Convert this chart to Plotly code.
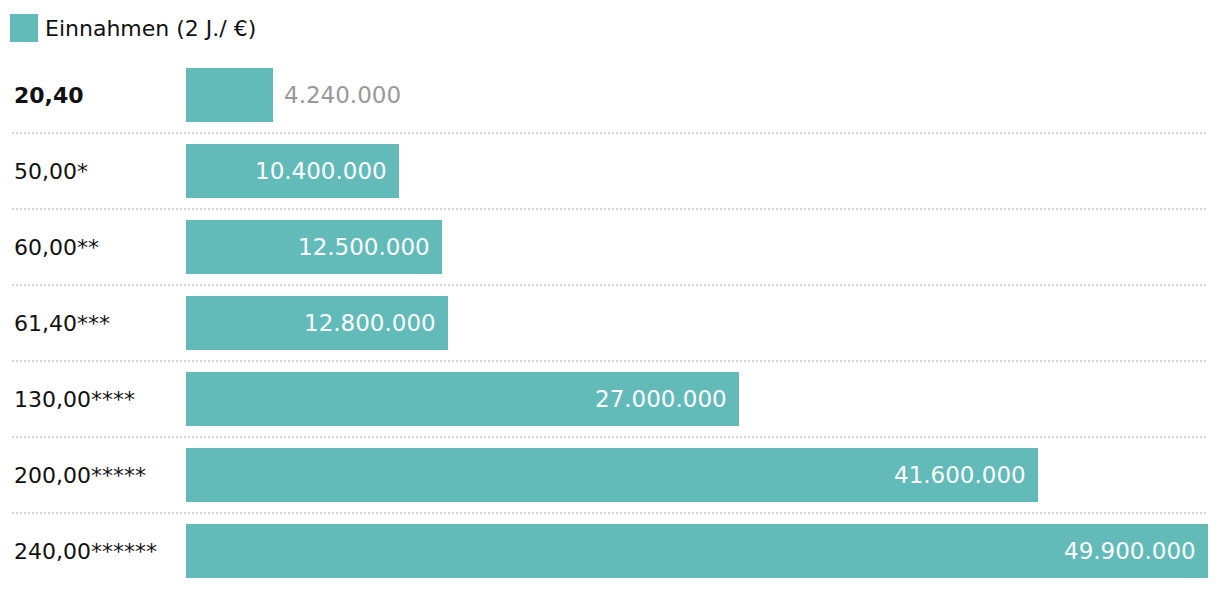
import plotly.graph_objects as go

# Data
categories = ["20,40", "50,00*", "60,00**", "61,40***", "130,00****", "200,00*****", "240,00******"]
values = [4240000, 10400000, 12500000, 12800000, 27000000, 41600000, 49900000]
value_labels = ["4.240.000", "10.400.000", "12.500.000", "12.800.000", "27.000.000", "41.600.000", "49.900.000"]
series_name = "Einnahmen (2 J./ €)"
highlight = [True, False, False, False, False, False, False]

BAR = "#62bbb9"
W, H = 1220, 590
ypos = list(range(len(categories)))

fig = go.Figure()
fig.add_trace(go.Bar(
    x=values, y=ypos, orientation="h", marker=dict(color=BAR, line=dict(width=0)),
    width=54 / 76, name=series_name, showlegend=False, hoverinfo="skip",
))

annotations = []
shapes = []
for i, (cat, v, lab, hl) in enumerate(zip(categories, values, value_labels, highlight)):
    annotations.append(dict(
        x=12 / W, xref="paper", y=i, yref="y", xanchor="left", yanchor="middle",
        text=f"<b>{cat}</b>" if hl else cat, showarrow=False,
        font=dict(family="DejaVu Sans", size=22, color="#111111"),
    ))
    inside = v > 6e6
    annotations.append(dict(
        x=v, xref="x", y=i, yref="y",
        xanchor="right" if inside else "left", yanchor="middle",
        xshift=-10 if inside else 9,
        text=lab, showarrow=False,
        font=dict(family="DejaVu Sans", size=23, color="#ffffff" if inside else "#999999"),
    ))
    if i < len(categories) - 1:
        shapes.append(dict(
            type="line", xref="paper", yref="y", x0=12 / W, x1=1208 / W, y0=i + 0.5, y1=i + 0.5,
            line=dict(color="#d6d6d6", width=2, dash="2px,2px"), layer="below",
        ))

# legend
shapes.append(dict(type="rect", xref="paper", yref="paper",
                   x0=10 / W, x1=38 / W, y0=1 - 42 / H, y1=1 - 14 / H,
                   fillcolor=BAR, line=dict(width=0)))
annotations.append(dict(x=43 / W, xref="paper", y=1 - 28 / H, yref="paper",
                        xanchor="left", yanchor="middle", text=series_name, showarrow=False,
                        font=dict(family="DejaVu Sans", size=22, color="#111111")))

fig.update_layout(
    width=W, height=H, margin=dict(l=0, r=0, t=0, b=0),
    paper_bgcolor="white", plot_bgcolor="white",
    xaxis=dict(domain=[186 / W, 1208 / W], range=[0, max(values)], visible=False, fixedrange=True),
    yaxis=dict(domain=[0, 1], range=[6 + 39 / 76, -95 / 76], visible=False, fixedrange=True),
    annotations=annotations, shapes=shapes, bargap=0,
)
fig.write_html("out.html", config={"displayModeBar": False},
               post_script="document.body.style.margin='0';document.body.style.overflow='hidden';")
